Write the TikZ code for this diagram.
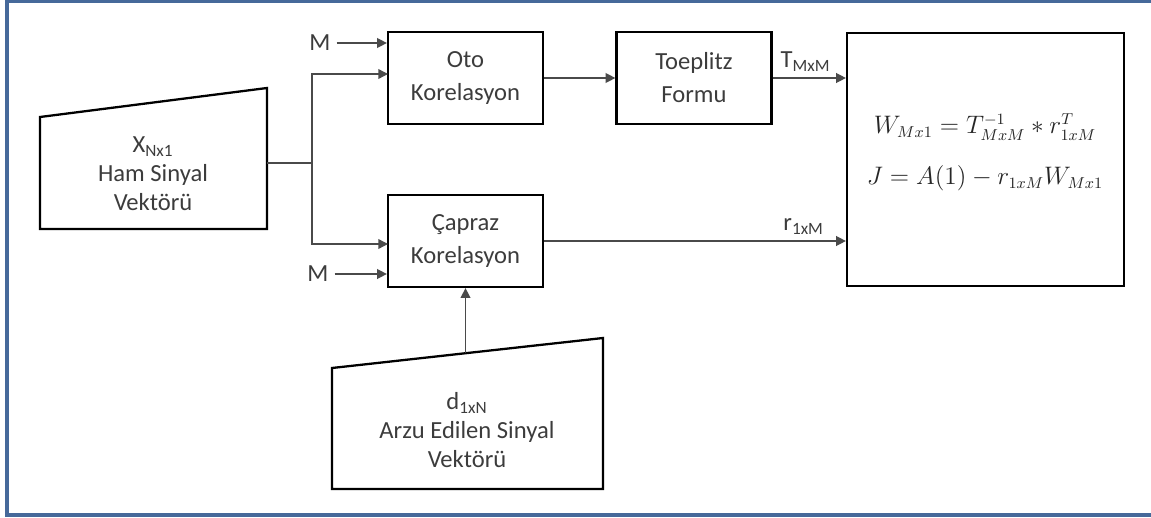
\documentclass[tikz,border=0pt]{standalone}
\usepackage{fontspec}
\setmainfont{Carlito}
\usetikzlibrary{arrows.meta,positioning}

\definecolor{cerceve}{HTML}{46699A}
\definecolor{metin}{HTML}{3C3C3C}
\definecolor{hatrenk}{HTML}{4A4A4A}

\tikzset{
  blok/.style={draw, line width=1.3pt, minimum width=3.1cm, minimum height=1.84cm,
    align=center, text=metin, font=\fontsize{14}{18.8}\selectfont},
  vektor/.style={draw, line width=1.3pt, line join=miter},
  yazi/.style={align=center, text=metin, font=\fontsize{14}{16.5}\selectfont},
  denklem/.style={text=black!85, font=\fontsize{13.5}{16}\selectfont},
  hat/.style={draw=hatrenk, line width=0.8pt},
  ok/.style={hat, -{Triangle[length=5.5pt,width=5.5pt]}},
}

\begin{document}
\begin{tikzpicture}[x=0.02cm,y=-0.02cm]

\useasboundingbox (0,0) rectangle (1151,517);
\draw[cerceve, line width=2.2pt] (7,1.5) rectangle (1175,515);

% giris vektorleri
\draw[vektor] (40,117) -- (267,88) -- (267,229) -- (40,229) -- cycle;
\node[yazi] (xvec) at (153,174) {X\textsubscript{Nx1}\\Ham Sinyal\\Vektörü};
\coordinate (xout) at (267,163);
\coordinate (kol) at (312,163);

\draw[vektor] (332,368) -- (603,338) -- (603,489) -- (332,489) -- cycle;
\node[yazi] (dvec) at (467,430) {d\textsubscript{1xN}\\Arzu Edilen Sinyal\\Vektörü};
\coordinate (dout) at (465.5,353);

% bloklar
\node[blok] (oto) at (465.5,78) {Oto\\Korelasyon};
\node[blok] (toeplitz) at (694,78) {Toeplitz\\Formu};
\node[blok] (capraz) at (465.5,241) {Çapraz\\Korelasyon};
\node[blok, minimum width=5.54cm, minimum height=5.06cm] (sonuc) at (985.5,159.5) {};

\node[denklem] (eq1) at (985,127) {$W_{Mx1}=T^{-1}_{MxM}\ast r^{T}_{1xM}$};
\node[denklem] (eq2) at (985,178) {$J=A(1)-r_{1xM}W_{Mx1}$};

% M girisleri
\node[yazi] (m1) at (320,43) {M};
\node[yazi] (m2) at (318,274) {M};
\draw[ok] (m1.east) -- (m1 -| oto.west);
\draw[ok] (m2.east) -- (m2 -| capraz.west);

% baglantilar
\draw[hat] (xout) -- (kol);
\draw[ok] (kol) |- (388,74);
\draw[ok] (kol) |- (388,244);
\draw[ok] (oto) -- (toeplitz);
\draw[ok] (toeplitz.east) -- (toeplitz.east -| sonuc.west)
  node[pos=0.45, above, yazi] {T\textsubscript{MxM}};
\draw[ok] (capraz.east) -- (capraz.east -| sonuc.west)
  node[pos=0.86, above, yazi] {r\textsubscript{1xM}};
\draw[ok] (dout) -- (capraz.south);

\end{tikzpicture}
\end{document}
